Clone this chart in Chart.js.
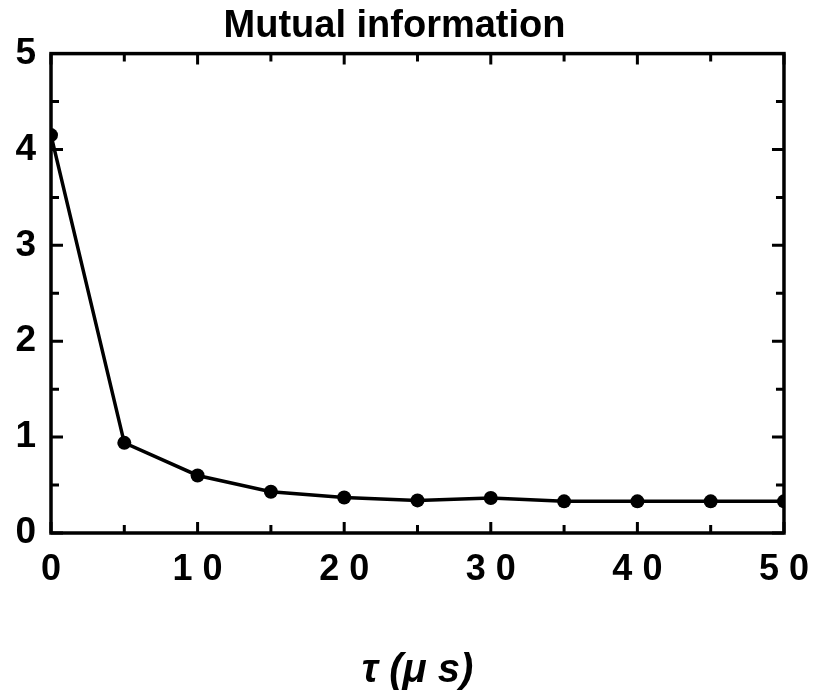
<!DOCTYPE html>
<html>
<head>
<meta charset="utf-8">
<script src="https://cdn.jsdelivr.net/npm/chart.js@4.4.1/dist/chart.umd.min.js"></script>
<style>
  html, body { margin: 0; padding: 0; background: #fff; }
  #wrap { width: 819px; height: 695px; }
</style>
</head>
<body>
<div id="wrap"><canvas id="miChart" width="819" height="695"></canvas></div>
<script>
// lag tau in microseconds, mutual information at each lag
const tau = [0, 5, 10, 15, 20, 25, 30, 35, 40, 45, 50];
const mutualInfo = [4.15, 0.94, 0.60, 0.43, 0.37, 0.34, 0.365, 0.33, 0.33, 0.33, 0.33];

const xMajorTicks = [0, 10, 20, 30, 40, 50];
const xMinorTicks = [5, 15, 25, 35, 45];
const yMajorTicks = [0, 1, 2, 3, 4, 5];
const yMinorTicks = [0.5, 1.5, 2.5, 3.5, 4.5];

const FONT = "'Liberation Sans', Arial, Helvetica, sans-serif";
const X_LABEL_SPACING = 10;

// box around the plot with tick marks pointing inwards on all four sides
const frameTicks = {
  id: 'frameTicks',
  afterUpdate(chart) {
    // spread the digits of the x tick labels a bit
    const xs = chart.scales.x;
    if (xs._spaced) return;
    const orig = xs.drawLabels;
    xs.drawLabels = function (area) {
      const ctx = this.ctx;
      ctx.save();
      ctx.letterSpacing = X_LABEL_SPACING + 'px';
      ctx.translate(X_LABEL_SPACING / 2, 0);
      orig.call(this, area);
      ctx.restore();
    };
    xs._spaced = true;
  },
  afterDatasetsDraw(chart) {
    const { ctx, chartArea: a, scales: { x, y } } = chart;
    ctx.save();
    ctx.strokeStyle = '#000';
    ctx.lineWidth = 3.5;
    ctx.lineCap = 'square';
    ctx.strokeRect(a.left, a.top, a.right - a.left, a.bottom - a.top);

    ctx.lineWidth = 3;
    ctx.lineCap = 'butt';
    const tickX = (v, len) => {
      const px = x.getPixelForValue(v);
      ctx.beginPath();
      ctx.moveTo(px, a.bottom); ctx.lineTo(px, a.bottom - len);
      ctx.moveTo(px, a.top); ctx.lineTo(px, a.top + len);
      ctx.stroke();
    };
    const tickY = (v, len) => {
      const py = y.getPixelForValue(v);
      ctx.beginPath();
      ctx.moveTo(a.left, py); ctx.lineTo(a.left + len, py);
      ctx.moveTo(a.right, py); ctx.lineTo(a.right - len, py);
      ctx.stroke();
    };
    xMajorTicks.forEach(v => tickX(v, 11));
    xMinorTicks.forEach(v => tickX(v, 8));
    yMajorTicks.forEach(v => tickY(v, 12));
    yMinorTicks.forEach(v => tickY(v, 8));
    ctx.restore();
  }
};

new Chart(document.getElementById('miChart'), {
  type: 'line',
  data: {
    labels: tau,
    datasets: [{
      data: tau.map((t, i) => ({ x: t, y: mutualInfo[i] })),
      borderColor: '#000',
      backgroundColor: '#000',
      borderWidth: 3.5,
      pointRadius: 7,
      pointBackgroundColor: '#000',
      pointBorderWidth: 0,
      tension: 0
    }]
  },
  options: {
    responsive: false,
    animation: false,
    layout: { padding: { left: 0, right: 30, top: 0, bottom: 0 } },
    plugins: {
      legend: { display: false },
      tooltip: { enabled: false },
      title: {
        display: true,
        text: 'Mutual information',
        color: '#000',
        font: { family: FONT, size: 38, weight: 'bold' },
        padding: { top: 4, bottom: 4 }
      }
    },
    scales: {
      x: {
        type: 'linear',
        min: 0,
        max: 50,
        grid: { display: false, drawTicks: false },
        border: { display: false },
        ticks: {
          stepSize: 10,
          maxRotation: 0,
          color: '#000',
          padding: 15,
          font: { family: FONT, size: 36, weight: 'bold' }
        },
        title: {
          display: true,
          text: 'τ (μ s)',
          color: '#000',
          font: { family: FONT, size: 40, weight: 'bold', style: 'italic' },
          padding: { top: 48, bottom: 0 }
        },
        afterFit(scale) { scale.height = 162; }
      },
      y: {
        min: 0,
        max: 5,
        grid: { display: false, drawTicks: false },
        border: { display: false },
        ticks: {
          stepSize: 1,
          color: '#000',
          padding: 15,
          font: { family: FONT, size: 37, weight: 'bold' }
        },
        afterFit(scale) { scale.width = 51; }
      }
    }
  },
  plugins: [frameTicks]
});
</script>
</body>
</html>
